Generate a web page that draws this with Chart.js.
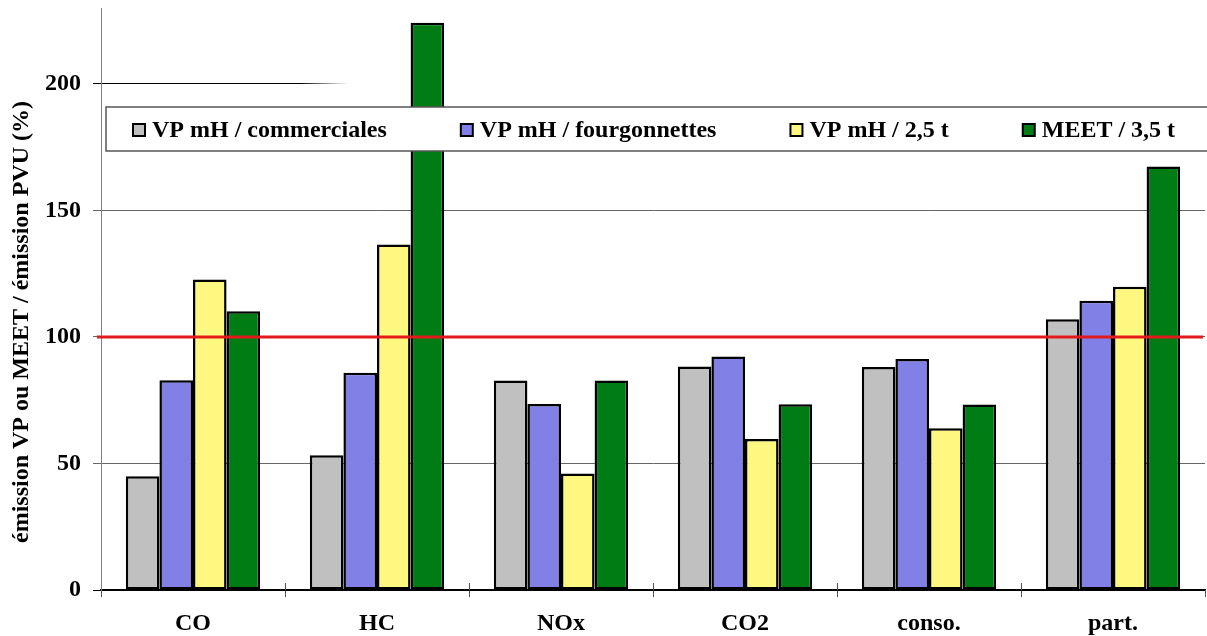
<!DOCTYPE html>
<html>
<head>
<meta charset="utf-8">
<script src="https://cdn.jsdelivr.net/npm/chart.js@4.4.1/dist/chart.umd.min.js"></script>
<style>
  html, body { margin: 0; padding: 0; background: #ffffff; }
  canvas { display: block; }
</style>
</head>
<body>
<canvas id="c" width="1207" height="636"></canvas>
<script>
// ---- data ----
const categories = ['CO', 'HC', 'NOx', 'CO2', 'conso.', 'part.'];
const seriesNames = ['VP mH / commerciales', 'VP mH / fourgonnettes', 'VP mH / 2,5 t', 'MEET / 3,5 t'];
const vpCommerciales = [45, 53.3, 82.8, 88.3, 88.1, 107];
const vpFourgonnettes = [82.9, 85.9, 73.5, 92.3, 91.3, 114.3];
const vp25t = [122.7, 136.5, 46, 59.7, 63.9, 119.8];
const meet35t = [110.2, 224.2, 82.8, 73.4, 73.3, 167.4];
const yTickValues = [0, 50, 100, 150, 200];
const yMax = 230;
const referenceValue = 100;
const yTitle = 'émission VP ou MEET / émission PVU (%)';

// ---- styles ----
const colors = ['#C0C0C0', '#8080E6', '#FFF880', '#007C15'];
const FONT = '"Liberation Serif", "Times New Roman", serif';

const seriesValues = [vpCommerciales, vpFourgonnettes, vp25t, meet35t];

const datasets = seriesValues.map((vals, i) => ({
  label: seriesNames[i],
  data: vals,
  backgroundColor: colors[i],
  borderColor: '#000000',
  borderWidth: 2.5,
  borderSkipped: false,
  categoryPercentage: 0.73,
  barPercentage: 1.0
}));

const overlayPlugin = {
  id: 'overlay',
  afterDatasetsDraw(chart) {
    const ctx = chart.ctx;
    const a = chart.chartArea;
    // small category tick marks crossing above the axis
    const xs = chart.scales.x;
    ctx.save();
    ctx.strokeStyle = '#555555';
    ctx.lineWidth = 1;
    for (let i = 1; i < categories.length; i++) {
      const px = Math.round((xs.getPixelForTick(i - 1) + xs.getPixelForTick(i)) / 2) + 0.5;
      ctx.beginPath();
      ctx.moveTo(px, a.bottom - 7);
      ctx.lineTo(px, a.bottom);
      ctx.stroke();
    }
    ctx.restore();
    // reference line at 100 %
    const y = chart.scales.y.getPixelForValue(referenceValue);
    ctx.save();
    ctx.strokeStyle = '#E31A1C';
    ctx.lineWidth = 3;
    ctx.beginPath();
    ctx.moveTo(a.left - 4, y);
    ctx.lineTo(a.right - 2, y);
    ctx.stroke();
    ctx.restore();
  },
  afterDraw(chart) {
    const ctx = chart.ctx;
    // y axis title
    ctx.save();
    ctx.translate(22, 322);
    ctx.rotate(-Math.PI / 2);
    ctx.font = 'bold 24px ' + FONT;
    ctx.fillStyle = '#000';
    ctx.textAlign = 'center';
    ctx.textBaseline = 'middle';
    ctx.fillText(yTitle, 0, 0);
    ctx.restore();

    // legend box
    ctx.save();
    const bx = 106, by = 107, bh = 44;
    ctx.fillStyle = '#ffffff';
    ctx.fillRect(bx, by, 1207 - bx + 10, bh);
    ctx.strokeStyle = '#555555';
    ctx.lineWidth = 1.5;
    ctx.strokeRect(bx, by, 1207 - bx + 10, bh);
    ctx.font = 'bold 24px ' + FONT;
    ctx.textBaseline = 'middle';
    ctx.textAlign = 'left';
    let x = 133;
    const cy = 130;
    chart.data.datasets.forEach((ds) => {
      ctx.fillStyle = ds.backgroundColor;
      ctx.fillRect(x, cy - 6, 12, 12);
      ctx.strokeStyle = '#000';
      ctx.lineWidth = 2;
      ctx.strokeRect(x, cy - 6, 12, 12);
      ctx.fillStyle = '#000';
      ctx.fillText(ds.label, x + 19, cy + 1);
      x += 19 + ctx.measureText(ds.label).width + 74;
    });
    ctx.restore();
  }
};

new Chart(document.getElementById('c'), {
  type: 'bar',
  data: { labels: categories, datasets: datasets },
  options: {
    responsive: false,
    animation: false,
    layout: { padding: { top: 8, right: 2, left: 0, bottom: 0 } },
    plugins: {
      legend: { display: false },
      tooltip: { enabled: false }
    },
    scales: {
      x: {
        type: 'category',
        offset: true,
        afterFit(scale) {
          scale.height = 46;
          scale.paddingLeft = 0;
          scale.paddingRight = 0;
        },
        grid: {
          offset: true,
          drawOnChartArea: false,
          drawTicks: true,
          tickLength: 7,
          color: '#555555',
          lineWidth: 1
        },
        border: { display: true, color: '#000000', width: 1.5 },
        ticks: {
          color: '#000',
          font: { family: FONT, size: 24, weight: 'bold' },
          padding: 12,
          maxRotation: 0
        }
      },
      y: {
        type: 'linear',
        min: 0,
        max: yMax,
        afterFit(scale) {
          scale.width = 101;
          scale.paddingTop = 0;
          scale.paddingBottom = 0;
        },
        afterBuildTicks(scale) {
          scale.ticks = yTickValues.map(v => ({ value: v }));
        },
        grid: {
          drawTicks: true,
          tickLength: 8,
          lineWidth: 1,
          color(c) {
            const v = c.tick ? c.tick.value : null;
            if (v === 0) return '#000000';
            if (v === 200) {
              const g = c.chart.ctx.createLinearGradient(300, 0, 348, 0);
              g.addColorStop(0, 'rgba(0,0,0,1)');
              g.addColorStop(1, 'rgba(0,0,0,0)');
              return g;
            }
            return '#666666';
          }
        },
        border: { display: true, color: '#808080', width: 1 },
        ticks: {
          color: '#000',
          font: { family: FONT, size: 24, weight: 'bold' },
          padding: 12
        }
      }
    }
  },
  plugins: [overlayPlugin]
});
</script>
</body>
</html>
